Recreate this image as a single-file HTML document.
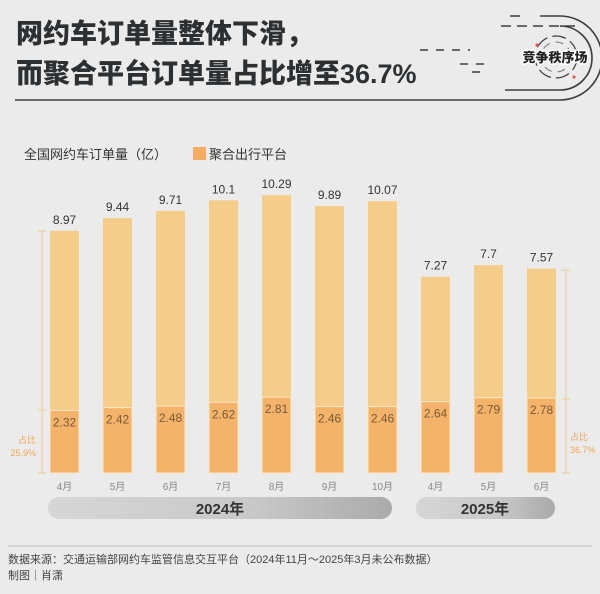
<!DOCTYPE html>
<html><head><meta charset="utf-8">
<style>
body{margin:0;background:#ebebeb;}
#wrap{position:relative;width:600px;height:594px;overflow:hidden;background:#ebebeb;font-family:"Liberation Sans","Noto Sans CJK SC",sans-serif;}
</style></head>
<body>
<div id="wrap">
<svg id="chart" width="600" height="594" viewBox="0 0 600 594" font-family="Liberation Sans, Noto Sans CJK SC, sans-serif">
 <g font-weight="900" fill="#2d3033" font-size="27">
  <text x="16" y="43">网约车订单量整体下滑，</text>
  <text x="16" y="83">而聚合平台订单量占比增至36.7%</text>
 </g>
 <g fill="none" stroke="#3a3d40" stroke-width="1.6">
  <path d="M15 100 H560 A42 42 0 0 0 560 16 H540" />
  <path d="M520 16 H505 M575 26 H500" stroke-dasharray="10 6"/>
  <path d="M560 26 A31 31 0 0 1 560 90 H505" />
  <path d="M420 50 H470 M460 64 H490 M480 72 H470" stroke-dasharray="8 8"/>
  <circle cx="556" cy="57" r="21" stroke-dasharray="14 5" stroke-width="1.2"/>
  <circle cx="556" cy="57" r="15" stroke-dasharray="8 6" stroke-width="1" stroke="#777"/>
  <circle cx="537" cy="45" r="1.6" fill="#e55" stroke="none"/>
  <circle cx="574" cy="77" r="1.6" fill="#e55" stroke="none"/>
  <text x="555" y="62" text-anchor="middle" font-size="13" font-weight="900" fill="#222" stroke="#fff" stroke-width="3" paint-order="stroke">竞争秩序场</text>
 </g>
 <g font-size="13" fill="#333">
  <text x="24" y="159">全国网约车订单量（亿）</text>
  <rect x="193" y="147" width="13" height="13" fill="#f4ad62"/>
  <text x="209" y="159">聚合出行平台</text>
 </g>
 <g id="bars"></g>
 <g stroke="#f0c98f" stroke-width="1" fill="none">
  <path d="M42 231 V473 M38 231 H46 M38 410 H46 M38 473 H46"/>
  <path d="M566 270 V473 M562 270 H570 M562 399 H570 M562 473 H570"/>
 </g>
 <g font-size="9" fill="#f0a85a">
  <text x="36" y="443" text-anchor="end">占比</text>
  <text x="36" y="456" text-anchor="end">25.9%</text>
  <text x="570" y="440">占比</text>
  <text x="570" y="453">36.7%</text>
 </g>
 <defs>
  <linearGradient id="pill" x1="0" x2="1"><stop offset="0" stop-color="#d6d6d6"/><stop offset="0.6" stop-color="#c8c8c8"/><stop offset="1" stop-color="#a9aaab"/></linearGradient>
 </defs>
 <g>
  <rect x="48" y="497" width="344" height="22" rx="11" fill="url(#pill)"/>
  <text x="220" y="514" text-anchor="middle" font-size="15" font-weight="bold" fill="#333">2024年</text>
  <rect x="416" y="497" width="139" height="22" rx="11" fill="url(#pill)"/>
  <text x="485" y="514" text-anchor="middle" font-size="15" font-weight="bold" fill="#333">2025年</text>
 </g>
 <line x1="8" y1="546" x2="592" y2="546" stroke="#bbb" stroke-width="1"/>
 <g font-size="11" fill="#444">
  <text x="8" y="563">数据来源：交通运输部网约车监管信息交互平台（2024年11月～2025年3月未公布数据）</text>
  <text x="8" y="579">制图｜肖潇</text>
 </g>
</svg>
</div>
<script>
const categories = ["4月","5月","6月","7月","8月","9月","10月","4月","5月","6月"];
const totalValues = [8.97,9.44,9.71,10.1,10.29,9.89,10.07,7.27,7.7,7.57];
const aggValues = [2.32,2.42,2.48,2.62,2.81,2.46,2.46,2.64,2.79,2.78];
const totalLabels = ["8.97","9.44","9.71","10.1","10.29","9.89","10.07","7.27","7.7","7.57"];
const aggLabels = ["2.32","2.42","2.48","2.62","2.81","2.46","2.46","2.64","2.79","2.78"];

const baseY = 473, pxPerUnit = 27;
function y(v){ return baseY - v*pxPerUnit; }
function xc(i){ return 64.5 + i*53; }
const barW = 29;
const NS = "http://www.w3.org/2000/svg";
const g = document.getElementById('bars');
function mk(tag, attrs){ const e=document.createElementNS(NS,tag); for(const k in attrs) e.setAttribute(k,attrs[k]); g.appendChild(e); return e; }
categories.forEach((c,i)=>{
  const x = xc(i)-barW/2;
  const t = mk('rect',{x:x,y:y(totalValues[i]),width:barW,height:totalValues[i]*pxPerUnit,fill:'#f5cd8b'});
  
  
  const a = mk('rect',{x:x,y:y(aggValues[i]),width:barW,height:aggValues[i]*pxPerUnit,fill:'#f4b36b',stroke:'#fbe7c4','stroke-width':1});
  
  
  const tl = mk('text',{x:xc(i),y:y(totalValues[i])-7,'text-anchor':'middle','font-size':12,fill:'#333'});
  tl.textContent = totalLabels[i];
  
  
  const al = mk('text',{x:xc(i),y:y(aggValues[i])+16,'text-anchor':'middle','font-size':12,fill:'#7a5a35'});
  al.textContent = aggLabels[i];
  
  
  const cl = mk('text',{x:xc(i),y:490,'text-anchor':'middle','font-size':10,fill:'#888'});
  cl.textContent = c;
  
  
});
</script>
</body></html>
